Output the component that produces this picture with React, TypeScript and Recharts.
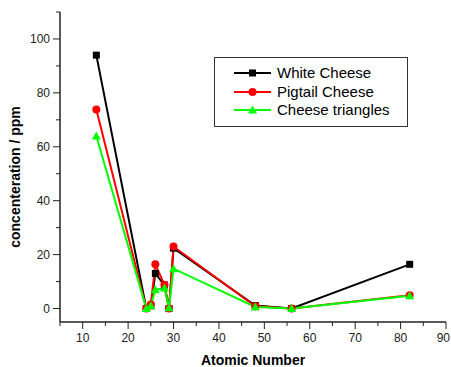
import { LineChart, Line, XAxis, YAxis, Label } from 'recharts';

// Atomic number of each measured element
const atomicNumbers = [13, 24, 25, 26, 28, 29, 30, 48, 56, 82];

// concentrations in ppm
const whiteCheese = [94, 0, 1, 13, 8.7, 0, 22.4, 1.1, 0, 16.4];
const pigtailCheese = [73.8, 0, 1.5, 16.4, 8.8, 0, 23, 0.8, 0, 4.9];
const cheeseTriangles = [64, 0, 1, 7, 7.6, 0.3, 14.8, 0.6, 0, 4.7];

const seriesNames = ['White Cheese', 'Pigtail Cheese', 'Cheese triangles'];
const seriesColors = ['#000000', '#ff0000', '#00ff00'];

const xTicks = [5, 10, 15, 20, 25, 30, 35, 40, 45, 50, 55, 60, 65, 70, 75, 80, 85, 90];
const yTicks = [0, 10, 20, 30, 40, 50, 60, 70, 80, 90, 100, 110];

const data = atomicNumbers.map((z, i) => ({
  z,
  white: whiteCheese[i],
  pigtail: pigtailCheese[i],
  triangles: cheeseTriangles[i],
}));

const FONT = '"Liberation Sans", Arial, sans-serif';
const AXIS = '#222';

const Square = (props: any) => {
  const { cx, cy } = props;
  if (cx == null || cy == null) return null;
  return <rect x={cx - 3.5} y={cy - 3.5} width={7} height={7} fill="#000" />;
};

const Circle = (props: any) => {
  const { cx, cy } = props;
  if (cx == null || cy == null) return null;
  return <circle cx={cx} cy={cy} r={4} fill="#ff0000" />;
};

const Triangle = (props: any) => {
  const { cx, cy } = props;
  if (cx == null || cy == null) return null;
  return <polygon points={`${cx},${cy - 4.5} ${cx + 4.5},${cy + 3.5} ${cx - 4.5},${cy + 3.5}`} fill="#00ff00" />;
};

const XTick = (props: any) => {
  const { x, y, payload } = props;
  const major = payload.value % 10 === 0;
  // last label would spill past the right edge, so pull it in
  const last = payload.value === 90;
  return (
    <g>
      <line x1={x} y1={y} x2={x} y2={y + (major ? 7 : 4)} stroke={AXIS} strokeWidth={1} />
      {major && (
        <text
          x={last ? x + 4 : x}
          y={y + 20}
          textAnchor={last ? 'end' : 'middle'}
          fontSize={12}
          fontFamily={FONT}
          fill="#222"
        >
          {payload.value}
        </text>
      )}
    </g>
  );
};

const YTick = (props: any) => {
  const { x, y, payload } = props;
  const major = payload.value % 20 === 0 && payload.value <= 100;
  return (
    <g>
      <line x1={x} y1={y} x2={x - (major ? 7 : 4)} y2={y} stroke={AXIS} strokeWidth={1} />
      {major && (
        <text x={x - 10} y={y + 4} textAnchor="end" fontSize={12} fontFamily={FONT} fill="#222">
          {payload.value}
        </text>
      )}
    </g>
  );
};

const LegendMarker = ({ i }: { i: number }) => {
  const c = seriesColors[i];
  return (
    <svg width={40} height={12} style={{ display: 'block' }}>
      <line x1={1} y1={6} x2={38} y2={6} stroke={c} strokeWidth={2} />
      {i === 0 && <rect x={16} y={2.5} width={7} height={7} fill={c} />}
      {i === 1 && <circle cx={19.5} cy={6} r={4} fill={c} />}
      {i === 2 && <polygon points="19.5,1.5 24,9.5 15,9.5" fill={c} />}
    </svg>
  );
};

export default function App() {
  return (
    <div style={{ position: 'absolute', left: 0, top: 0, width: 451, height: 367, background: '#fff' }}>
      <LineChart width={451} height={367} data={data} margin={{ top: 12, right: 5, left: 0, bottom: 0 }}>
        <XAxis
          type="number"
          dataKey="z"
          domain={[5, 90]}
          ticks={xTicks}
          interval={0}
          tickSize={0}
          tickMargin={0}
          tickLine={false}
          tick={<XTick />}
          height={45}
          axisLine={{ stroke: AXIS, strokeWidth: 1.5 }}
        >
          <Label
            value="Atomic Number"
            position="insideBottom"
            offset={2}
            style={{ fontFamily: FONT, fontSize: 14, fontWeight: 'bold', fill: '#000' }}
          />
        </XAxis>
        <YAxis
          type="number"
          domain={[-5, 110]}
          ticks={yTicks}
          interval={0}
          tickSize={0}
          tickMargin={0}
          tickLine={false}
          tick={<YTick />}
          width={60}
          axisLine={{ stroke: AXIS, strokeWidth: 1.5 }}
        >
          <Label
            content={() => (
              <text
                transform="translate(20,177) rotate(-90)"
                textAnchor="middle"
                fontFamily={FONT}
                fontSize={14}
                fontWeight="bold"
                fill="#000"
              >
                concenteration / ppm
              </text>
            )}
          />
        </YAxis>
        <Line dataKey="white" stroke={seriesColors[0]} strokeWidth={2} dot={<Square />} isAnimationActive={false} />
        <Line dataKey="pigtail" stroke={seriesColors[1]} strokeWidth={2} dot={<Circle />} isAnimationActive={false} />
        <Line dataKey="triangles" stroke={seriesColors[2]} strokeWidth={2} dot={<Triangle />} isAnimationActive={false} />
      </LineChart>
      <div
        style={{
          position: 'absolute',
          left: 214,
          top: 57,
          width: 194,
          height: 70,
          boxSizing: 'border-box',
          border: '1px solid #333',
          background: '#fff',
          paddingTop: 6,
        }}
      >
        {seriesNames.map((name, i) => (
          <div key={name} style={{ display: 'flex', alignItems: 'center', height: 18.5, marginLeft: 18 }}>
            <LegendMarker i={i} />
            <span style={{ fontFamily: FONT, fontSize: 15, color: '#000', marginLeft: 4, lineHeight: '18px' }}>
              {name}
            </span>
          </div>
        ))}
      </div>
    </div>
  );
}
